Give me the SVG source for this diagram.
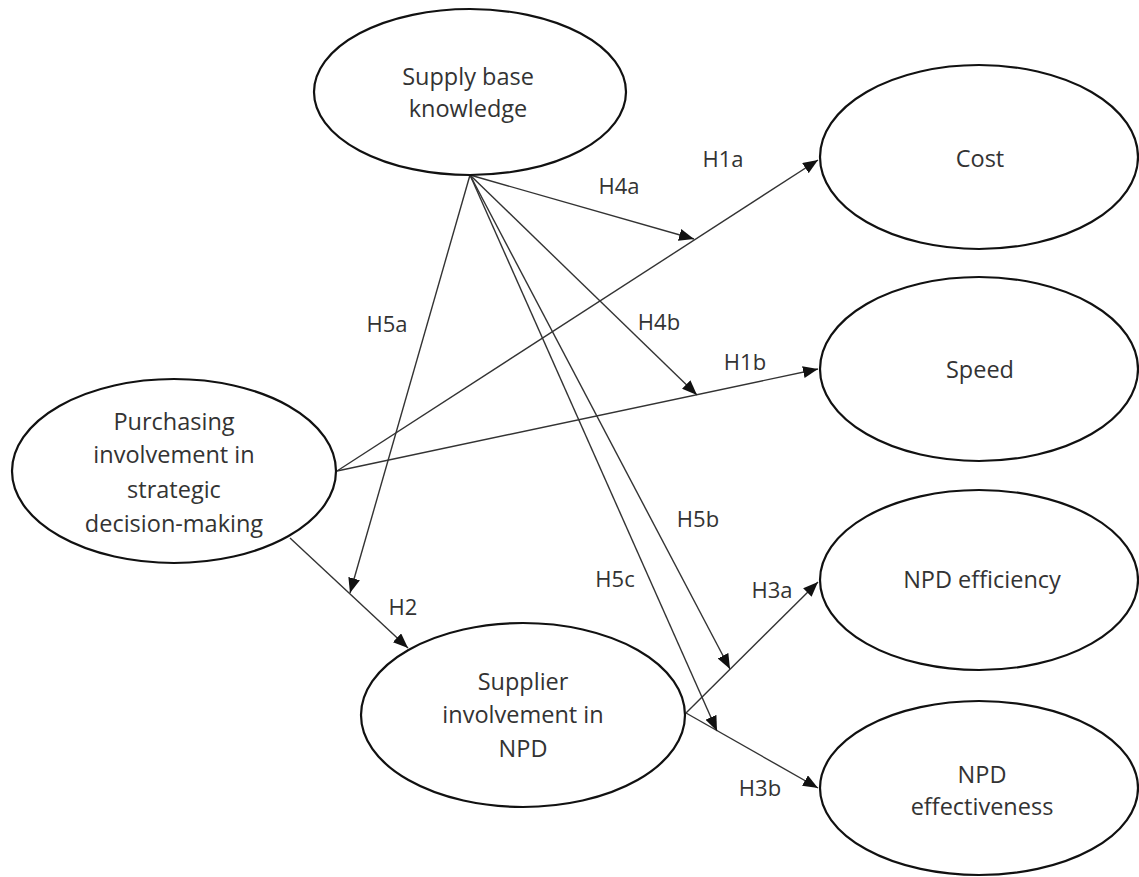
<svg xmlns="http://www.w3.org/2000/svg" width="1139" height="877" viewBox="0 0 1139 877">
<style>
.node{fill:#fff;stroke:#111;stroke-width:2.2}
.t{font-family:"Open Sans","Liberation Sans",sans-serif;font-size:23.5px;fill:#333;text-anchor:middle}
.lbl{font-family:"Open Sans","Liberation Sans",sans-serif;font-size:22px;fill:#333;text-anchor:middle}
.c{stroke:#333;stroke-width:1.4;fill:none;marker-end:url(#ah)}
</style>
<defs>
<marker id="ah" markerUnits="userSpaceOnUse" markerWidth="16" markerHeight="12" refX="15" refY="6" orient="auto">
<path d="M0,0 L15,6 L0,12 z" fill="#111"/>
</marker>
</defs>
<rect width="1139" height="877" fill="#fff"/>
<g id="connectors">
<line class="c" x1="337" y1="471" x2="818" y2="160"/>
<line class="c" x1="337" y1="471" x2="818" y2="369"/>
<line class="c" x1="290" y1="538" x2="408" y2="648"/>
<line class="c" x1="686" y1="713" x2="818" y2="582"/>
<line class="c" x1="686" y1="713" x2="818" y2="788"/>
<line class="c" x1="470" y1="175" x2="694" y2="239"/>
<line class="c" x1="470" y1="175" x2="697" y2="395"/>
<line class="c" x1="470" y1="175" x2="350" y2="593"/>
<line class="c" x1="470" y1="175" x2="730" y2="669"/>
<line class="c" x1="470" y1="175" x2="717" y2="731"/>
</g>
<g id="labels">
<text class="lbl" x="723" y="167">H1a</text>
<text class="lbl" x="619" y="194">H4a</text>
<text class="lbl" x="659" y="330">H4b</text>
<text class="lbl" x="745" y="370">H1b</text>
<text class="lbl" x="387" y="332">H5a</text>
<text class="lbl" x="698" y="527">H5b</text>
<text class="lbl" x="615" y="587">H5c</text>
<text class="lbl" x="403" y="615">H2</text>
<text class="lbl" x="772" y="598">H3a</text>
<text class="lbl" x="760" y="796">H3b</text>
</g>
<g id="supply-base-knowledge">
<ellipse class="node" cx="470" cy="92" rx="156" ry="83"/>
<text class="t" x="468" y="85">Supply base</text>
<text class="t" x="468" y="117">knowledge</text>
</g>
<g id="purchasing-involvement">
<ellipse class="node" cx="174" cy="471" rx="162" ry="92"/>
<text class="t" x="174" y="430">Purchasing</text>
<text class="t" x="174" y="463">involvement in</text>
<text class="t" x="174" y="498">strategic</text>
<text class="t" x="174" y="532">decision-making</text>
</g>
<g id="supplier-involvement">
<ellipse class="node" cx="523" cy="715" rx="162" ry="92"/>
<text class="t" x="523" y="690">Supplier</text>
<text class="t" x="523" y="723">involvement in</text>
<text class="t" x="523" y="757">NPD</text>
</g>
<g id="cost">
<ellipse class="node" cx="979" cy="157" rx="159" ry="92"/>
<text class="t" x="980" y="167">Cost</text>
</g>
<g id="speed">
<ellipse class="node" cx="979" cy="369" rx="159" ry="92"/>
<text class="t" x="980" y="378">Speed</text>
</g>
<g id="npd-efficiency">
<ellipse class="node" cx="979" cy="580" rx="159" ry="90"/>
<text class="t" x="982" y="588">NPD efficiency</text>
</g>
<g id="npd-effectiveness">
<ellipse class="node" cx="979" cy="788" rx="159" ry="87"/>
<text class="t" x="982" y="783">NPD</text>
<text class="t" x="982" y="815">effectiveness</text>
</g>
</svg>
